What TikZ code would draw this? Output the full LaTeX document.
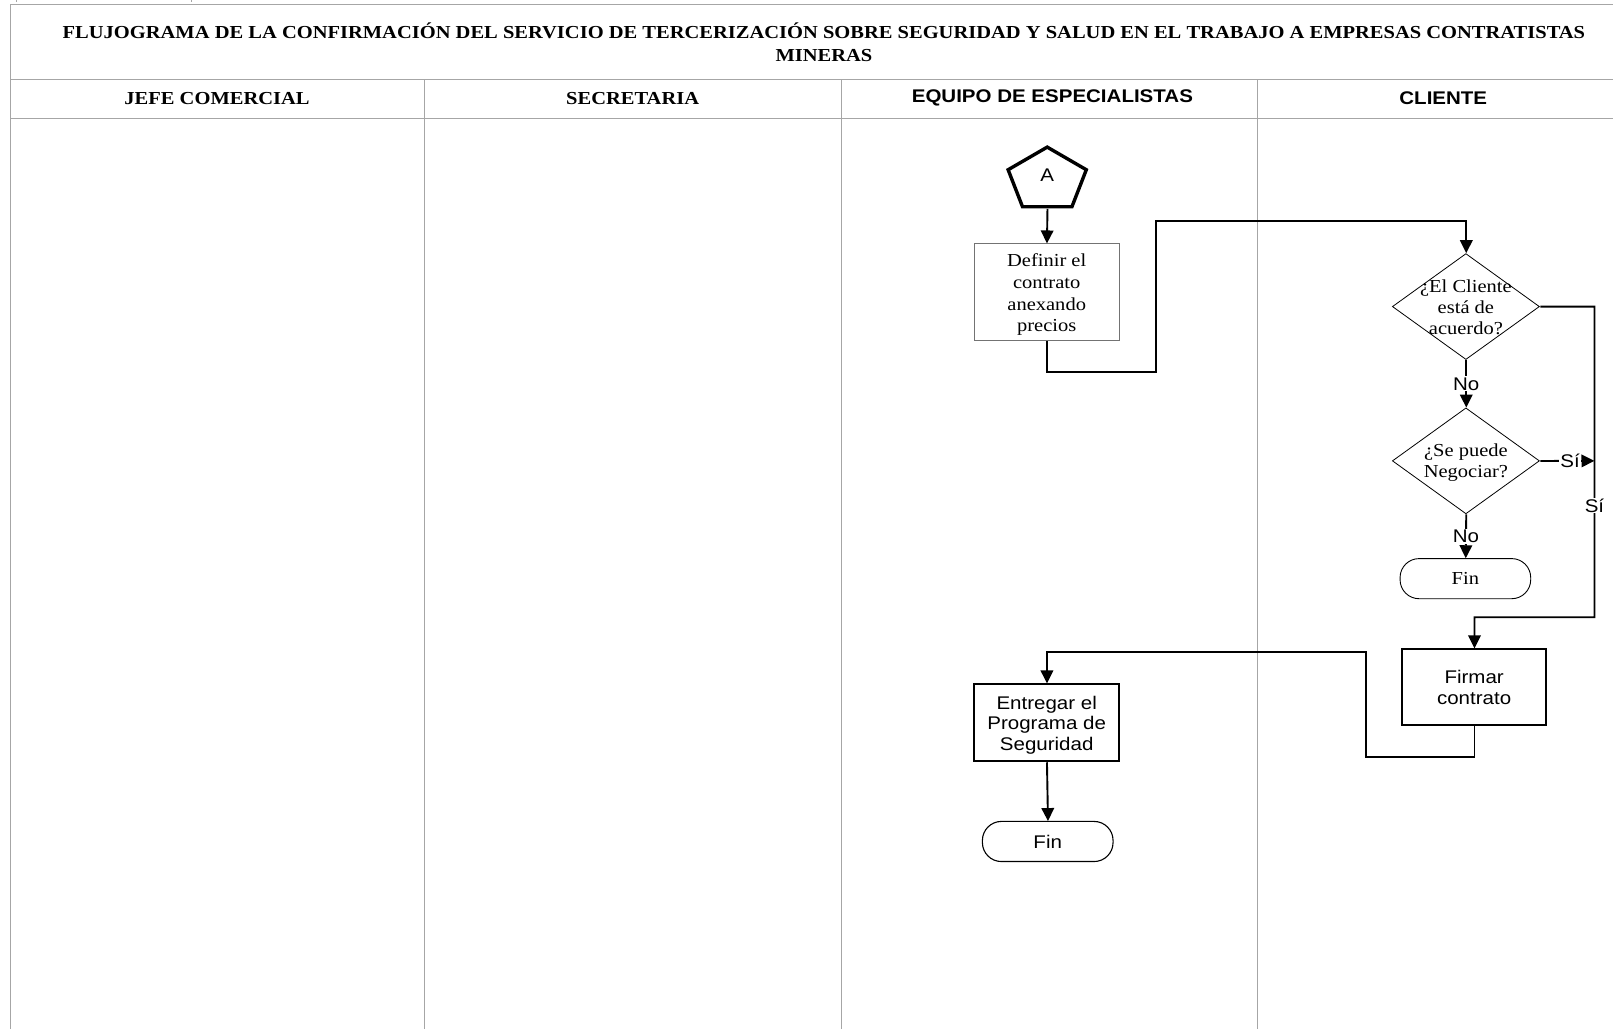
\documentclass[tikz,border=0pt]{standalone}
\usepackage{fontspec}
\setmainfont{Liberation Serif}[FakeStretch=1.12]
\setsansfont{Liberation Sans}[FakeStretch=1.12]
\usetikzlibrary{arrows.meta,shapes.geometric}
\begin{document}
\begin{tikzpicture}[x=1pt,y=-1pt,scale=1.0287,every node/.append style={transform shape},
  grid/.style={draw=black!35,line width=1pt},
  conn/.style={draw=black,line width=1.9pt,line join=miter,-{Triangle[length=13pt,width=12.5pt]}},
  procS/.style={draw=black!55,line width=0.8pt,minimum width=141pt,minimum height=94pt,inner sep=0pt},
  procB/.style={draw=black,line width=1.6pt,inner sep=0pt},
  btext/.style={inner sep=0pt,align=center},
  dec/.style={diamond,draw=black,line width=0.8pt,minimum width=143pt,minimum height=103pt,inner sep=0pt},
  dtext/.style={align=center,font=\fontsize{17.8}{20.5}\selectfont,inner sep=0pt},
  term/.style={draw=black,line width=0.9pt,rounded corners=19pt,minimum width=127pt,minimum height=39pt,inner sep=0pt},
  lbl/.style={fill=white,inner sep=1pt,font=\sffamily\fontsize{17.8}{20}\selectfont},
  hdrS/.style={font=\bfseries\fontsize{17.8}{21}\selectfont},
  hdrA/.style={font=\sffamily\bfseries\fontsize{17.8}{20}\selectfont},
]
\useasboundingbox[fill=white] (0,0) rectangle (1568,1000.3);
% grid
\draw[grid] (1568,4) -- (10,4) -- (10,1000.3);
\draw[grid] (10,77) -- (1568,77);
\draw[grid] (10,115) -- (1568,115);
\foreach \x in {413,818,1222} \draw[grid] (\x,77) -- (\x,1000.3);
\draw[grid] (16.5,0) -- (16.5,2);
\draw[grid] (186.5,0) -- (186.5,2);
% title and headers
\node[align=center,font=\bfseries\fontsize{17.8}{22}\selectfont] (title) at (801,41) {FLUJOGRAMA DE LA CONFIRMACIÓN DEL SERVICIO DE TERCERIZACIÓN SOBRE SEGURIDAD Y SALUD EN EL TRABAJO A EMPRESAS CONTRATISTAS\\MINERAS};
\node[hdrS] (h1) at (211,95.5) {JEFE COMERCIAL};
\node[hdrS] (h2) at (615,95.5) {SECRETARIA};
\node[hdrA] (h3) at (1023,95.5) {EQUIPO DE ESPECIALISTAS};
\node[hdrA] (h4) at (1403,95) {CLIENTE};
% connector A
\draw[line width=3.4pt,line join=miter] (1018,143) -- (1056,165) -- (1042,201) -- (994,201) -- (980,165) -- cycle;
\node[font=\sffamily\fontsize{17.8}{20}\selectfont] (A) at (1018,170) {A};
\coordinate (Abot) at (1018,203);
% nodes
\node[procS] (def) at (1017.5,284) {};
\node[btext,font=\fontsize{17.8}{21}\selectfont] (deft) at (1017.5,286.5) {Definir el\\contrato\\anexando\\precios};
\node[dec] (d1) at (1425,298) {};
\node[dtext] (d1t) at (1425,299) {¿El Cliente\\está de\\acuerdo?};
\node[dec] (d2) at (1425,448) {};
\node[dtext] (d2t) at (1425,450) {¿Se puede\\Negociar?};
\node[term,font=\fontsize{17.8}{20}\selectfont] (fin1) at (1424.5,562.5) {Fin};
\node[procB,minimum width=140pt,minimum height=74pt] (firm) at (1433,668) {};
\node[btext,font=\sffamily\fontsize{17.8}{20}\selectfont] (firmt) at (1433,668.5) {Firmar\\contrato};
\node[procB,minimum width=141pt,minimum height=75pt] (ent) at (1017.5,702.5) {};
\node[btext,font=\sffamily\fontsize{17.8}{20}\selectfont] (entt) at (1017.5,705) {Entregar el\\Programa de\\Seguridad};
\node[term,line width=1.1pt,font=\sffamily\fontsize{17.8}{20}\selectfont] (fin2) at (1018.5,818) {Fin};
% connectors
\draw[conn] (Abot) -- (def.north);
\draw[conn] (def.south) |- (1124,362) -- (1124,215) -| (d1.north);
\draw[conn] (d1.south) -- node[lbl]{No} (d2.north);
\draw[conn] (d2.east) -- node[lbl,pos=0.55]{Sí} (1550,448);
\draw[conn] (d1.east) -- (1550,298) -- node[lbl,pos=0.64]{Sí} (1550,600) -| (firm.north);
\draw[conn] (d2.south) -- node[lbl]{No} (fin1.north);
\draw[conn] (firm.south) |- (1328,736) -- (1328,634) -| (ent.north);
\draw[conn] (ent.south) -- (fin2.north);
\end{tikzpicture}
\end{document}
